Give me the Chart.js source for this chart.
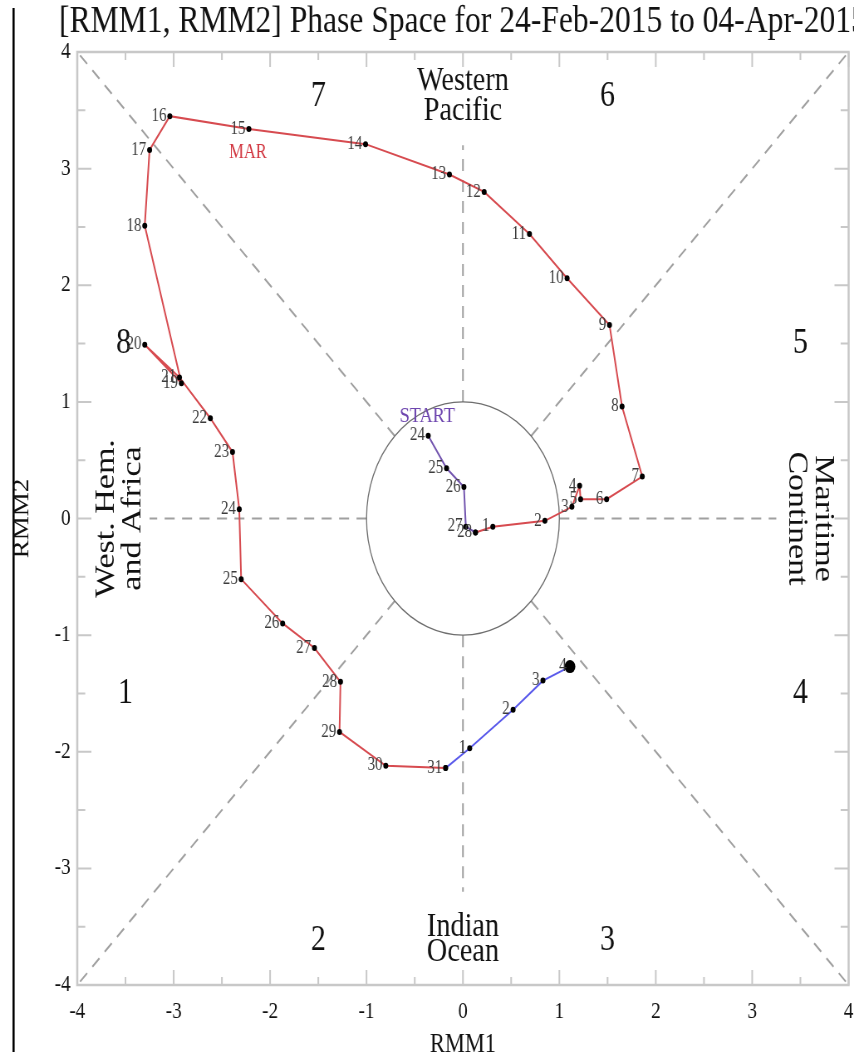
<!DOCTYPE html>
<html>
<head>
<meta charset="utf-8">
<title>RMM Phase Space</title>
<script src="https://cdn.jsdelivr.net/npm/chart.js@4.4.1/dist/chart.umd.min.js"></script>
<style>
  html, body { margin: 0; padding: 0; background: #fff; overflow: hidden; }
</style>
</head>
<body>
<!-- the source picture is squeezed sideways, so the canvas is drawn wider and shown at 854px -->
<canvas id="phaseChart" width="1028" height="1052" style="width:854px;height:1052px;display:block"></canvas>
<script>
// daily RMM1 / RMM2 values
const febDays = [24, 25, 26, 27, 28];
const febRmm1 = [-0.36, -0.17, 0.01, 0.03, 0.13];
const febRmm2 = [0.71, 0.43, 0.27, -0.07, -0.12];

const marDays = [1, 2, 3, 4, 5, 6, 7, 8, 9, 10, 11, 12, 13, 14, 15, 16,
                 17, 18, 19, 20, 21, 22, 23, 24, 25, 26, 27, 28, 29, 30, 31];
const marRmm1 = [0.31, 0.85, 1.13, 1.21, 1.22, 1.49, 1.86, 1.65, 1.52, 1.08, 0.69,
                 0.22, -0.14, -1.01, -2.22, -3.04, -3.25, -3.30, -2.92, -3.30, -2.94,
                 -2.62, -2.39, -2.32, -2.30, -1.87, -1.54, -1.27, -1.28, -0.80, -0.18];
const marRmm2 = [-0.07, -0.02, 0.10, 0.28, 0.165, 0.165, 0.36, 0.96, 1.66, 2.06, 2.44,
                 2.80, 2.95, 3.21, 3.34, 3.45, 3.16, 2.51, 1.16, 1.49, 1.21,
                 0.86, 0.57, 0.08, -0.52, -0.90, -1.11, -1.40, -1.83, -2.12, -2.14];

const aprDays = [1, 2, 3, 4];
const aprRmm1 = [0.07, 0.52, 0.83, 1.11];
const aprRmm2 = [-1.97, -1.64, -1.39, -1.27];

const phaseNames = ['1', '2', '3', '4', '5', '6', '7', '8'];
const chartTitle = '[RMM1, RMM2] Phase Space for 24-Feb-2015 to 04-Apr-2015';

const SERIF = '"Liberation Serif", "Times New Roman", serif';

function toPoints(xs, ys) {
    return xs.map((x, i) => ({ x: x, y: ys[i] }));
}

const febPts = toPoints(febRmm1, febRmm2);
// each month's line starts from the last day of the month before
const marPts = [febPts[febPts.length - 1]].concat(toPoints(marRmm1, marRmm2));
const aprPts = [marPts[marPts.length - 1]].concat(toPoints(aprRmm1, aprRmm2));

const phasePlot = {
    id: 'phasePlot',
    beforeDraw(chart) {
        const ctx = chart.ctx;
        ctx.save();
        ctx.fillStyle = '#fff';
        ctx.fillRect(0, 0, chart.width, chart.height);
        ctx.fillStyle = '#000';
        ctx.fillRect(15, 8, 2.6, chart.height);
        ctx.restore();
    },
    beforeDatasetsDraw(chart) {
        const { ctx, scales: { x, y } } = chart;
        const px = v => x.getPixelForValue(v);
        const py = v => y.getPixelForValue(v);
        ctx.save();

        // dashed phase boundaries
        ctx.strokeStyle = 'rgb(160,160,160)';
        ctx.lineWidth = 2;
        ctx.setLineDash([12, 9]);
        const seg = (x1, y1, x2, y2) => {
            ctx.beginPath();
            ctx.moveTo(px(x1), py(y1));
            ctx.lineTo(px(x2), py(y2));
            ctx.stroke();
        };
        seg(1, 0, 3.25, 0);
        seg(-1, 0, -3.25, 0);
        seg(0, 1, 0, 3.2);
        seg(0, -1, 0, -3.2);
        const d = Math.SQRT1_2;
        seg(d, d, 4, 4);
        seg(-d, d, -4, 4);
        seg(-d, -d, -4, -4);
        seg(d, -d, 4, -4);

        // unit circle
        ctx.setLineDash([]);
        ctx.strokeStyle = 'rgb(110,110,110)';
        ctx.lineWidth = 1.3;
        ctx.beginPath();
        ctx.ellipse(px(0), py(0), px(1) - px(0), py(0) - py(1), 0, 0, 2 * Math.PI);
        ctx.stroke();

        // phase numbers
        ctx.fillStyle = '#111';
        ctx.textAlign = 'center';
        ctx.textBaseline = 'middle';
        ctx.font = '36px ' + SERIF;
        const phasePos = [[-3.5, -1.5], [-1.5, -3.62], [1.5, -3.62], [3.5, -1.5],
                          [3.5, 1.5], [1.5, 3.62], [-1.5, 3.62], [-3.52, 1.5]];
        phaseNames.forEach((n, i) => {
            ctx.fillText(n, px(phasePos[i][0]), py(phasePos[i][1]));
        });

        // region names
        ctx.font = '34px ' + SERIF;
        ctx.fillText('Western', px(0), py(3.75));
        ctx.fillText('Pacific', px(0), py(3.49));
        ctx.fillText('Indian', px(0), py(-3.50));
        ctx.fillText('Ocean', px(0), py(-3.72));

        ctx.save();
        ctx.translate(px(-3.56), py(0));
        ctx.rotate(-Math.PI / 2);
        ctx.fillText('West. Hem.', 0, -16);
        ctx.fillText('and Africa', 0, 16);
        ctx.restore();

        ctx.save();
        ctx.translate(px(3.6), py(0));
        ctx.rotate(Math.PI / 2);
        ctx.fillText('Maritime', 0, -16);
        ctx.fillText('Continent', 0, 16);
        ctx.restore();

        ctx.font = '22px ' + SERIF;
        ctx.fillStyle = 'rgb(110,70,175)';
        ctx.fillText('START', px(-0.37), py(0.88));
        ctx.font = '20px ' + SERIF;
        ctx.fillStyle = 'rgb(210,55,65)';
        ctx.fillText('MAR', px(-2.23), py(3.14));

        ctx.restore();
    },
    afterDatasetsDraw(chart) {
        const { ctx, scales: { x, y } } = chart;
        ctx.save();
        ctx.font = '18px ' + SERIF;
        ctx.fillStyle = 'rgb(60,60,60)';
        ctx.textAlign = 'right';
        ctx.textBaseline = 'middle';
        const label = (days, xs, ys) => {
            days.forEach((dd, i) => {
                ctx.fillText(String(dd), x.getPixelForValue(xs[i]) - 4, y.getPixelForValue(ys[i]));
            });
        };
        label(febDays, febRmm1, febRmm2);
        label(marDays, marRmm1, marRmm2);
        label(aprDays, aprRmm1, aprRmm2);
        ctx.restore();
    },
    afterDraw(chart) {
        const { ctx, chartArea: a, scales: { x, y } } = chart;
        ctx.save();
        // frame with inward ticks on all four sides
        ctx.strokeStyle = 'rgb(200,200,200)';
        ctx.lineWidth = 2.5;
        ctx.strokeRect(a.left, a.top, a.right - a.left, a.bottom - a.top);
        ctx.lineWidth = 2;
        ctx.beginPath();
        x.ticks.forEach(t => {
            [[t.value, 15], [t.value + 0.5, 8]].forEach(([v, len]) => {
                if (v > x.max) return;
                const p = x.getPixelForValue(v);
                ctx.moveTo(p, a.bottom); ctx.lineTo(p, a.bottom - len);
                ctx.moveTo(p, a.top); ctx.lineTo(p, a.top + len);
            });
        });
        y.ticks.forEach(t => {
            [[t.value, 17], [t.value + 0.5, 9.6]].forEach(([v, len]) => {
                if (v > y.max) return;
                const p = y.getPixelForValue(v);
                ctx.moveTo(a.left, p); ctx.lineTo(a.left + len, p);
                ctx.moveTo(a.right, p); ctx.lineTo(a.right - len, p);
            });
        });
        ctx.stroke();

        // title, centred over the plot
        ctx.fillStyle = '#111';
        ctx.font = '38px ' + SERIF;
        ctx.textAlign = 'center';
        ctx.textBaseline = 'middle';
        ctx.fillText(chartTitle, (a.left + a.right) / 2, 22);
        ctx.restore();
    }
};

const ctx = document.getElementById('phaseChart').getContext('2d');

const chart = new Chart(ctx, {
    type: 'scatter',
    data: {
        datasets: [{
            label: 'Feb',
            data: febPts,
            showLine: true,
            borderColor: 'rgb(115,85,175)',
            borderWidth: 2,
            pointRadius: 3,
            pointBackgroundColor: '#000',
            pointBorderWidth: 0
        }, {
            label: 'Mar',
            data: marPts,
            showLine: true,
            borderColor: 'rgb(215,75,80)',
            borderWidth: 2,
            pointRadius: 3,
            pointBackgroundColor: '#000',
            pointBorderWidth: 0
        }, {
            label: 'Apr',
            data: aprPts,
            showLine: true,
            borderColor: 'rgb(90,90,235)',
            borderWidth: 2,
            pointRadius: c => (c.dataIndex === aprPts.length - 1 ? 6.5 : 3),
            pointBackgroundColor: '#000',
            pointBorderWidth: 0
        }]
    },
    options: {
        responsive: false,
        devicePixelRatio: 1,
        animation: false,
        layout: { padding: { top: 52, right: 1.5, bottom: 0, left: 0 } },
        plugins: {
            legend: { display: false },
            tooltip: { enabled: false }
        },
        scales: {
            x: {
                type: 'linear',
                min: -4,
                max: 4,
                ticks: { stepSize: 1, padding: 13, color: '#111', maxRotation: 0, autoSkip: false,
                         font: { family: SERIF, size: 23 } },
                grid: { display: false, drawTicks: false },
                border: { display: false },
                title: { display: true, text: 'RMM1', color: '#111', padding: 0,
                         font: { family: SERIF, size: 27, lineHeight: 0.5 } },
                afterFit(s) { s.height = 67; s.paddingLeft = 0; s.paddingRight = 0; }
            },
            y: {
                type: 'linear',
                min: -4,
                max: 4,
                ticks: { stepSize: 1, padding: 8, color: '#111', autoSkip: false,
                         font: { family: SERIF, size: 23 } },
                grid: { display: false, drawTicks: false },
                border: { display: false },
                title: { display: true, text: 'RMM2', color: '#111', padding: { top: 11, bottom: 0 },
                         font: { family: SERIF, size: 27 } },
                afterFit(s) { s.width = 93; s.paddingTop = 0; s.paddingBottom = 0; }
            }
        }
    },
    plugins: [phasePlot]
});
</script>
</body>
</html>
